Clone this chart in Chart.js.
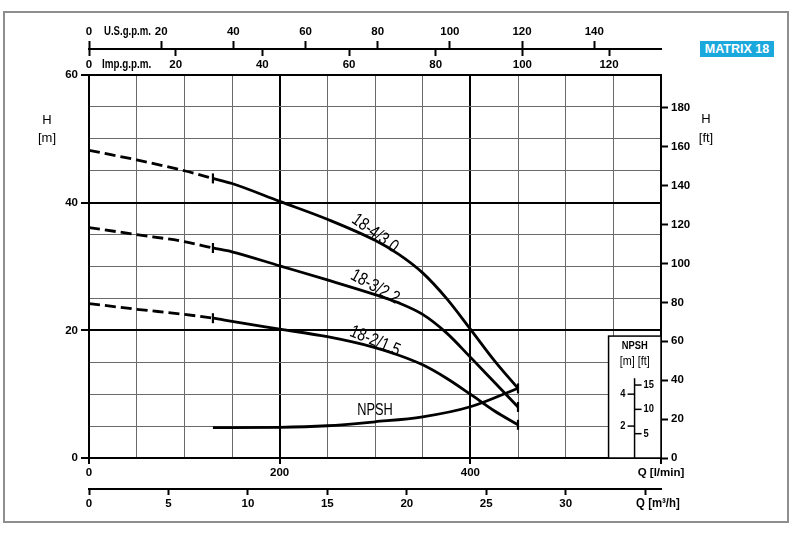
<!DOCTYPE html>
<html>
<head>
<meta charset="utf-8">
<title>MATRIX 18</title>
<script src="https://cdn.jsdelivr.net/npm/chart.js@4.4.1/dist/chart.umd.min.js"></script>
<style>
	html, body { margin: 0; padding: 0; background: #fff; }
	#frame { position: absolute; left: 3px; top: 11px; width: 786px; height: 512px; box-sizing: border-box; border: 2px solid #8e8e8e; }
	#badge { position: absolute; left: 700px; top: 41px; width: 74px; height: 16px; background: #1ba8dd; color: #fff;
		font: bold 12.5px 'Liberation Sans', Arial, sans-serif; line-height: 16px; text-align: center; }
	#wrap { position: absolute; left: 0; top: 0; width: 800px; height: 534px; }
</style>
</head>
<body>
<div id="frame"></div>
<div id="badge">MATRIX 18</div>
<div id="wrap"><canvas id="pumpChart"></canvas></div>
<script>
// Data
// --------------------------------------------------------------------
const flowLpm = [0, 50, 100, 130, 150, 200, 250, 300, 325, 350, 375, 400, 425, 450];
const head18_4 = [48.2, 46.7, 45.0, 43.8, 43.0, 40.2, 37.4, 34.1, 31.9, 29.0, 25.0, 20.2, 15.3, 10.9];
const head18_3 = [36.1, 35.0, 33.9, 32.9, 32.3, 30.1, 27.9, 25.6, 24.3, 22.5, 19.6, 15.8, 11.9, 8.0];
const head18_2 = [24.2, 23.3, 22.5, 21.9, 21.4, 20.2, 19.0, 17.3, 16.1, 14.6, 12.5, 10.0, 7.4, 5.2];
const npshFlow = [130, 200, 250, 300, 350, 400, 450];
const npshMetres = [1.90, 1.92, 2.02, 2.27, 2.58, 3.21, 4.37];
const curveNames = ['18-4/3.0', '18-3/2.2', '18-2/1.5'];
const npshTicksM = [2, 4];
const npshTicksFt = [5, 10, 15];

// unit conversions
const FT_PER_M = 3.28084, LPM_PER_USG = 3.78541, LPM_PER_IMPG = 4.54609, M3H_PER_LPM = 0.06;
const Q_MAX = 600, H_MAX = 60, NPSH_MAX = 24;
const dashUntil = 130, curveEnd = 450;

const fontFamily = "'Liberation Sans', Arial, sans-serif";
const tickFont = { family: fontFamily, size: 11.5, weight: 'bold' };
const thinGrid = '#6a6a6a';

function toPoints(xs, ys) {
	return xs.map(function(x, i) { return { x: x, y: ys[i] }; });
}

function curveSet(label, heads) {
	return {
		label: label,
		data: toPoints(flowLpm, heads),
		borderColor: '#000',
		borderWidth: 2.8,
		cubicInterpolationMode: 'monotone',
		pointStyle: 'line',
		rotation: 90,
		pointRadius: function(ctx) {
			const q = flowLpm[ctx.dataIndex];
			return (q === dashUntil || q === curveEnd) ? 5 : 0;
		},
		pointBorderWidth: 2.2,
		pointBorderColor: '#000',
		segment: {
			borderDash: function(ctx) { return ctx.p0.parsed.x < dashUntil ? [11, 5] : undefined; }
		}
	};
}

// draw text squeezed horizontally, to imitate the narrow drawing font
function narrowText(ctx, text, x, y, squeeze) {
	ctx.save();
	ctx.translate(x, y);
	ctx.scale(squeeze, 1);
	ctx.fillText(text, 0, 0);
	ctx.restore();
}

// Decorations: NPSH inset, curve names, unit titles
// --------------------------------------------------------------------
const decor = {
	id: 'decor',
	beforeDatasetsDraw: function(chart) {
		const ctx = chart.ctx, x = chart.scales.x, y = chart.scales.y, np = chart.scales.ynpsh;
		const left = x.getPixelForValue(545), right = chart.chartArea.right;
		const top = y.getPixelForValue(19.1), bottom = chart.chartArea.bottom;
		ctx.save();
		ctx.fillStyle = '#fff';
		ctx.fillRect(left, top, right - left, bottom - top);
		ctx.strokeStyle = '#000';
		ctx.lineWidth = 1.5;
		ctx.strokeRect(left, top, right - left, bottom - top);

		const ax = left + 26;
		ctx.beginPath();
		ctx.moveTo(ax, bottom);
		ctx.lineTo(ax, np.getPixelForValue(5));
		ctx.stroke();
		ctx.fillStyle = '#000';
		ctx.textBaseline = 'middle';
		ctx.font = 'bold 11px ' + fontFamily;
		npshTicksM.forEach(function(v) {
			const py = np.getPixelForValue(v);
			ctx.beginPath(); ctx.moveTo(ax - 7, py); ctx.lineTo(ax, py); ctx.stroke();
			ctx.textAlign = 'right';
			narrowText(ctx, String(v), ax - 9, py, 0.85);
		});
		npshTicksFt.forEach(function(v) {
			const py = np.getPixelForValue(v / FT_PER_M);
			ctx.beginPath(); ctx.moveTo(ax, py); ctx.lineTo(ax + 7, py); ctx.stroke();
			ctx.textAlign = 'left';
			narrowText(ctx, String(v), ax + 9, py, 0.85);
		});
		ctx.textAlign = 'center';
		narrowText(ctx, 'NPSH', (left + right) / 2, top + 10, 0.85);
		ctx.font = '12px ' + fontFamily;
		narrowText(ctx, '[m] [ft]', (left + right) / 2, top + 26, 0.9);
		ctx.restore();
	},
	afterDraw: function(chart) {
		const ctx = chart.ctx, s = chart.scales, area = chart.chartArea;
		ctx.save();
		ctx.fillStyle = '#000';
		ctx.textBaseline = 'middle';

		// curve names, anchored in data units
		const anchors = [[300, 35.2, 36], [300, 26.8, 29], [300, 18.3, 23]];
		ctx.font = '18px ' + fontFamily;
		ctx.textAlign = 'center';
		curveNames.forEach(function(name, i) {
			ctx.save();
			ctx.translate(s.x.getPixelForValue(anchors[i][0]), s.y.getPixelForValue(anchors[i][1]));
			ctx.rotate(anchors[i][2] * Math.PI / 180);
			ctx.scale(0.8, 1);
			ctx.fillText(name, 0, 0);
			ctx.restore();
		});
		ctx.font = '16px ' + fontFamily;
		narrowText(ctx, 'NPSH', s.x.getPixelForValue(300), s.y.getPixelForValue(7.35), 0.8);

		// axis unit titles
		ctx.font = '13px ' + fontFamily;
		ctx.fillText('H', area.left - 42, 120);
		ctx.fillText('[m]', area.left - 42, 138);
		ctx.fillText('H', area.right + 45, 119);
		ctx.fillText('[ft]', area.right + 45, 138);

		ctx.font = 'bold 12px ' + fontFamily;
		ctx.textAlign = 'left';
		narrowText(ctx, 'U.S.g.p.m.', s.us.getPixelForValue(0) + 15, 32, 0.8);
		narrowText(ctx, 'Imp.g.p.m.', s.imp.getPixelForValue(0) + 13, 65, 0.82);
		narrowText(ctx, 'Q [m\u00b3/h]', s.m3h.getPixelForValue(35) - 9, 504, 0.95);
		ctx.restore();
	}
};

document.addEventListener('DOMContentLoaded', function() {
	const pumpChart = document.getElementById('pumpChart');
	if (pumpChart) {
		const npshSet = {
			label: 'NPSH',
			data: toPoints(npshFlow, npshMetres),
			yAxisID: 'ynpsh',
			borderColor: '#000',
			borderWidth: 2.8,
			cubicInterpolationMode: 'monotone',
			pointRadius: 0
		};

		new Chart(pumpChart, {
			type: 'line',
			data: {
				datasets: [
					curveSet(curveNames[0], head18_4),
					curveSet(curveNames[1], head18_3),
					curveSet(curveNames[2], head18_2),
					npshSet
				]
			},
			plugins: [decor],
			options: {
				responsive: true,
				maintainAspectRatio: false,
				animation: false,
				events: [],
				layout: { padding: { left: 0, top: 20, right: 99, bottom: 15 } },
				plugins: {
					legend: { display: false },
					tooltip: { enabled: false }
				},
				scales: {
					x: {
						type: 'linear', position: 'bottom', weight: 0, min: 0, max: Q_MAX,
						afterFit: function(sc) { sc.height = 31; },
						ticks: {
							stepSize: 50, autoSkip: false, maxRotation: 0, padding: 2, color: '#000', font: tickFont,
							callback: function(v) { return v % 200 === 0 ? (v === Q_MAX ? 'Q [l/min]' : v) : ''; }
						},
						grid: {
							color: function(c) { return c.tick && c.tick.value % 200 === 0 ? '#000' : thinGrid; },
							lineWidth: function(c) { return c.tick && c.tick.value % 200 === 0 ? 2 : 1; },
							tickLength: 6,
							tickWidth: 2,
							tickColor: function(c) { return c.tick && c.tick.value % 200 === 0 ? '#000' : 'rgba(0,0,0,0)'; }
						},
						border: { color: '#000', width: 2 }
					},
					m3h: {
						type: 'linear', axis: 'x', position: 'bottom', weight: 1, min: 0, max: Q_MAX * M3H_PER_LPM,
						afterFit: function(sc) { sc.height = 30; },
						ticks: {
							stepSize: 5, includeBounds: false, maxRotation: 0, padding: 2, color: '#000', font: tickFont,
							callback: function(v) { return v === 35 ? '' : v; }
						},
						grid: { drawOnChartArea: false, tickLength: 6, tickWidth: 2, tickColor: '#000' },
						border: { color: '#000', width: 2 }
					},
					imp: {
						type: 'linear', axis: 'x', position: 'top', weight: 0, min: 0, max: Q_MAX / LPM_PER_IMPG,
						afterFit: function(sc) { sc.height = 26; },
						ticks: { stepSize: 20, includeBounds: false, maxRotation: 0, padding: -23, color: '#000', font: tickFont },
						grid: { drawOnChartArea: false, tickLength: 26, tickWidth: 2, tickColor: '#000', tickBorderDash: [7, 60] },
						border: { display: false }
					},
					us: {
						type: 'linear', axis: 'x', position: 'top', weight: 1, min: 0, max: Q_MAX / LPM_PER_USG,
						afterFit: function(sc) { sc.height = 29; },
						ticks: { stepSize: 20, includeBounds: false, maxRotation: 0, padding: 2, color: '#000', font: tickFont },
						grid: { drawOnChartArea: false, tickLength: 8, tickWidth: 2, tickColor: '#000' },
						border: { color: '#000', width: 2 }
					},
					y: {
						type: 'linear', position: 'left', min: 0, max: H_MAX,
						afterFit: function(sc) { sc.width = 89; },
						ticks: {
							stepSize: 5, autoSkip: false, padding: 3, color: '#000', font: tickFont,
							callback: function(v) { return v % 20 === 0 ? v : ''; }
						},
						grid: {
							color: function(c) { return c.tick && c.tick.value % 20 === 0 ? '#000' : thinGrid; },
							lineWidth: function(c) { return c.tick && c.tick.value % 20 === 0 ? 2 : 1; },
							tickLength: 8,
							tickWidth: 2,
							tickColor: function(c) { return c.tick && c.tick.value % 20 === 0 ? '#000' : 'rgba(0,0,0,0)'; }
						},
						border: { color: '#000', width: 2 }
					},
					yft: {
						type: 'linear', position: 'right', min: 0, max: H_MAX * FT_PER_M,
						afterFit: function(sc) { sc.width = 40; },
						ticks: { stepSize: 20, includeBounds: false, autoSkip: false, padding: 3, color: '#000', font: tickFont },
						grid: { drawOnChartArea: false, tickLength: 7, tickWidth: 2, tickColor: '#000' },
						border: { color: '#000', width: 2 }
					},
					ynpsh: {
						type: 'linear', position: 'right', display: false, min: 0, max: NPSH_MAX
					}
				}
			}
		});
	}
});
</script>
</body>
</html>
